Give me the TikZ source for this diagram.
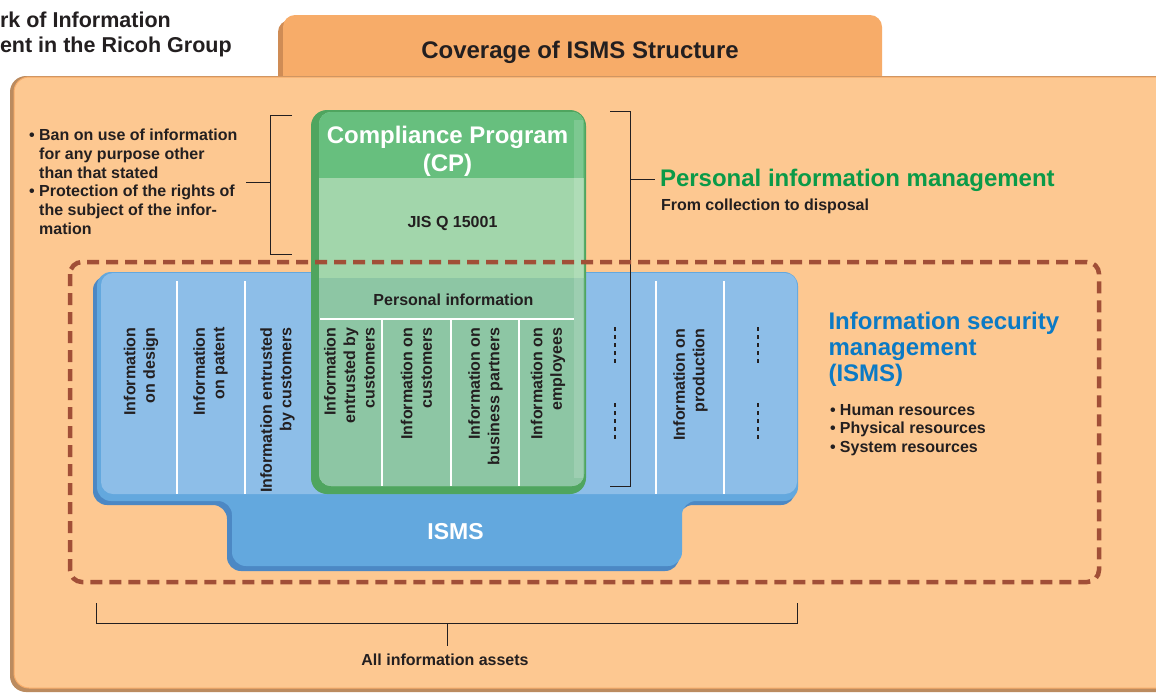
\documentclass[tikz,border=0pt]{standalone}
\usepackage{fontspec}
\setmainfont{Liberation Sans}
\definecolor{txt}{HTML}{231F20}
\definecolor{bodyor}{HTML}{FDC891}
\definecolor{bodyedge}{HTML}{BB8B5F}
\definecolor{tabor}{HTML}{F7AC69}
\definecolor{tabshadow}{HTML}{CF8C55}
\definecolor{blueface}{HTML}{8DBEE8}
\definecolor{bluetab}{HTML}{63A8DE}
\definecolor{bluedark}{HTML}{4C88C4}
\definecolor{greendark}{HTML}{4FA55F}
\definecolor{greenhead}{HTML}{67BF7E}
\definecolor{greenbody}{HTML}{A2D6AB}
\definecolor{greenlow}{HTML}{8DC6A4}
\definecolor{greentitle}{HTML}{0A9A48}
\definecolor{bluetitle}{HTML}{0B7AC5}
\definecolor{dashbrown}{HTML}{A14F37}
\tikzset{
  lbl/.style={font=\bfseries\fontsize{16}{18.6}\selectfont},
  big/.style={font=\bfseries\fontsize{24}{26}\selectfont},
  colt/.style={rotate=90, anchor=east, align=right, font=\bfseries\fontsize{16}{19.5}\selectfont},
  sep/.style={draw=white, line width=1.4pt},
  brk/.style={draw=txt, line width=1pt},
  dotcol/.style={draw=txt, line width=1.3pt, dash pattern=on 3.5pt off 4.6pt},
  dashrect/.style={draw=dashbrown, line width=4.5pt, dash pattern=on 12pt off 7pt, rounded corners=12pt},
}
\begin{document}
\begin{tikzpicture}[x=1pt,y=-1pt, every node/.style={inner sep=0pt, outer sep=0pt, text=txt}]
\useasboundingbox (0,0) rectangle (1156,694);
\clip (0,0) rectangle (1156,694);
\fill[white] (0,0) rectangle (1156,694);

% title (clipped)
\node[anchor=north west, align=left, font=\bfseries\fontsize{21.5}{25}\selectfont] (title) at (0,11.5) {rk of Information\\ent in the Ricoh Group};

% tab
\path[fill=tabshadow, rounded corners=12pt] (278,20) rectangle (878,100);
\path[fill=tabor, rounded corners=12pt] (283,15) rectangle (882,100);
\node[big, anchor=base] (cov) at (580,58.5) {Coverage of ISMS Structure};

% body
\path[fill=bodyedge, rounded corners=16pt] (10,76) rectangle (1180,692);
\path[fill=bodyor, draw=tabor, line width=1pt, rounded corners=15pt] (14,77) rectangle (1180,688);

% left bullets
\node[lbl, anchor=north west, align=left] (ban) at (29.2,129.4)
 {\makebox[10pt][l]{\textbullet}Ban on use of information\\
  \hspace*{10pt}for any purpose other\\
  \hspace*{10pt}than that stated\\
  \makebox[10pt][l]{\textbullet}Protection of the rights of\\
  \hspace*{10pt}the subject of the infor-\\
  \hspace*{10pt}mation};

% left bracket
\coordinate (lbt) at (292,115);
\coordinate (lbb) at (292,254);
\coordinate (lbm) at (270,182);
\coordinate (lbtick) at (246,182);
\draw[brk] (lbt) -- (270,115) -- (270,254) -- (lbb);
\draw[brk] (lbtick) -- (lbm);

% blue ISMS shape
\path[fill=bluedark, rounded corners=14pt] (93,276) -- (795,276) -- (795,505) -- (679,505) -- (679,571) -- (227,571) -- (227,505) -- (93,505) -- cycle;
\path[fill=bluetab, rounded corners=14pt] (97,272) -- (798,272) -- (798,501) -- (682,501) -- (682,566) -- (232,566) -- (232,501) -- (97,501) -- cycle;
\path[fill=blueface, rounded corners=12pt] (101,273) rectangle (797,494);
\node[text=white, font=\bfseries\fontsize{23}{26}\selectfont, anchor=base] (isms) at (455.5,539) {ISMS};

% blue separators
\foreach \x/\n in {177/a,245/b,656/c,724/d}{
  \coordinate (s\n t) at (\x,281);
  \coordinate (s\n b) at (\x,494);
  \draw[sep] (s\n t) -- (s\n b);
}

% blue column texts
\node[colt] (cdesign) at (141,327.5) {Information\\on design};
\node[colt] (cpatent) at (210.5,327.5) {Information\\on patent};
\node[colt] (centr) at (277.5,327.5) {Information entrusted\\by customers};
\node[colt] (cprod) at (690.5,328.5) {Information on\\production};

% dotted columns
\foreach \x/\n in {615/l,758/r}{
  \coordinate (d\n1) at (\x,327); \coordinate (d\n2) at (\x,364);
  \coordinate (d\n3) at (\x,403); \coordinate (d\n4) at (\x,440);
  \draw[dotcol] (d\n1) -- (d\n2);
  \draw[dotcol] (d\n3) -- (d\n4);
}

% green CP box
\path[fill=greendark, rounded corners=16pt] (311,110) rectangle (586,494);
\path[fill=greenbody, rounded corners=12pt] (319,112) rectangle (584,486);
\begin{scope}
  \clip (300,100) rectangle (600,177);
  \path[fill=greenhead, rounded corners=12pt] (319,112) rectangle (584,486);
\end{scope}
\begin{scope}
  \clip (300,278) rectangle (600,500);
  \path[fill=greenlow, rounded corners=12pt] (319,112) rectangle (584,486);
\end{scope}
\path[fill=white, fill opacity=0.15] (574,120) rectangle (583,478);
\node[big, text=white, anchor=north, align=center, font=\bfseries\fontsize{24}{27.5}\selectfont] (cp) at (447.5,126.2) {Compliance Program\\(CP)};
\node[lbl, anchor=base] (jis) at (452.5,227.5) {JIS Q 15001};
\node[lbl, anchor=base] (pinfo) at (453.5,305) {Personal information};
\coordinate (pl) at (320,319);
\coordinate (pr) at (574,319);
\draw[sep] (pl) -- (pr);
\foreach \x/\n in {382/e,451/f,519/g}{
  \coordinate (s\n t) at (\x,319);
  \coordinate (s\n b) at (\x,486);
  \draw[sep] (s\n t) -- (s\n b);
}
\node[colt] (gentr) at (349.5,327.5) {Information\\entrusted by\\customers};
\node[colt] (gcust) at (416.5,327.5) {Information on\\customers};
\node[colt] (gbus) at (485.5,327.5) {Information on\\business partners};
\node[colt] (gemp) at (548,327.5) {Information on\\employees};

% right bracket
\coordinate (rbt) at (610,111.5);
\coordinate (rbb) at (610,486.5);
\coordinate (rbm) at (630,179);
\coordinate (rbtick) at (655,179);
\draw[brk] (rbt) -- (630,111.5) -- (630,486.5) -- (rbb);
\draw[brk] (rbm) -- (rbtick);

% dashed ISMS boundary
\draw[dashrect] (70,262) rectangle (1099,582);

% right texts
\node[big, text=greentitle, anchor=base west] (pim) at (660,186.7) {Personal information management};
\node[lbl, anchor=base west] (fcd) at (661,210) {From collection to disposal};
\node[anchor=north west, align=left, text=bluetitle, font=\bfseries\fontsize{24}{26}\selectfont] (ism) at (828.5,312.5) {Information security\\management\\(ISMS)};
\node[lbl, anchor=north west, align=left] (res) at (830,404.3)
 {\makebox[10pt][l]{\textbullet}Human resources\\
  \makebox[10pt][l]{\textbullet}Physical resources\\
  \makebox[10pt][l]{\textbullet}System resources};

% bottom bracket
\coordinate (bl) at (96,603);
\coordinate (br) at (797,603);
\coordinate (bm) at (447,623);
\coordinate (btick) at (447,646);
\draw[brk] (bl) -- (96,623) -- (797,623) -- (br);
\draw[brk] (bm) -- (btick);
\node[lbl, anchor=base] (all) at (445,665) {All information assets};
\end{tikzpicture}
\end{document}
